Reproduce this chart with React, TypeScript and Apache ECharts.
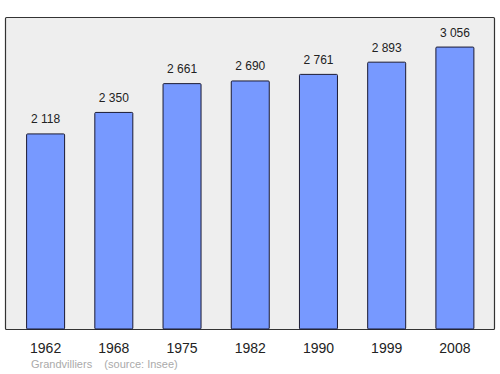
import React, { useEffect, useRef } from "react";
import * as echarts from "echarts";

const years = ["1962", "1968", "1975", "1982", "1990", "1999", "2008"];
const population = [2118, 2350, 2661, 2690, 2761, 2893, 3056];
const footer = "Grandvilliers    (source: Insee)";

const fmt = (v: number) => {
  const s = String(v);
  return s.length > 3 ? s.slice(0, s.length - 3) + " " + s.slice(-3) : s;
};

export default function App() {
  const ref = useRef<HTMLDivElement>(null);
  useEffect(() => {
    if (!ref.current) return;
    const chart = echarts.init(ref.current, null, { renderer: "svg" });
    chart.setOption({
      animation: false,
      backgroundColor: "#ffffff",
      textStyle: { fontFamily: "Liberation Sans, Arial, sans-serif" },
      graphic: [
        {
          type: "rect",
          shape: { x: 5.5, y: 17.5, width: 489, height: 312, r: 1 },
          style: { fill: "#eeeeee", stroke: "#333333", lineWidth: 1.2 },
          z: -10,
          silent: true,
        },
        {
          type: "text",
          x: 31,
          y: 358,
          style: {
            text: footer,
            fill: "#aaaaaa",
            fontSize: 11,
            fontFamily: "Liberation Sans, Arial, sans-serif",
          },
        },
      ],
      grid: { left: 11.5, right: 11, top: 17.5, bottom: 44.5, containLabel: false },
      xAxis: {
        type: "category",
        data: years,
        axisLine: { show: false },
        axisTick: { show: false },
        axisLabel: { color: "#222222", fontSize: 14, margin: 11 },
      },
      yAxis: {
        type: "value",
        min: 0,
        max: 3370,
        show: false,
        splitLine: { show: false },
      },
      series: [
        {
          type: "bar",
          data: population,
          barWidth: 39,
          itemStyle: {
            color: "#7799ff",
            borderColor: "#1a1a33",
            borderWidth: 1,
            borderRadius: 1,
          },
          label: {
            show: true,
            position: "top",
            distance: 8,
            color: "#222222",
            fontSize: 12,
            formatter: (p: any) => fmt(p.value),
          },
        },
      ],
    });
    return () => chart.dispose();
  }, []);
  return (
    <div
      ref={ref}
      style={{ position: "absolute", left: 0, top: 0, width: 500, height: 374 }}
    />
  );
}
